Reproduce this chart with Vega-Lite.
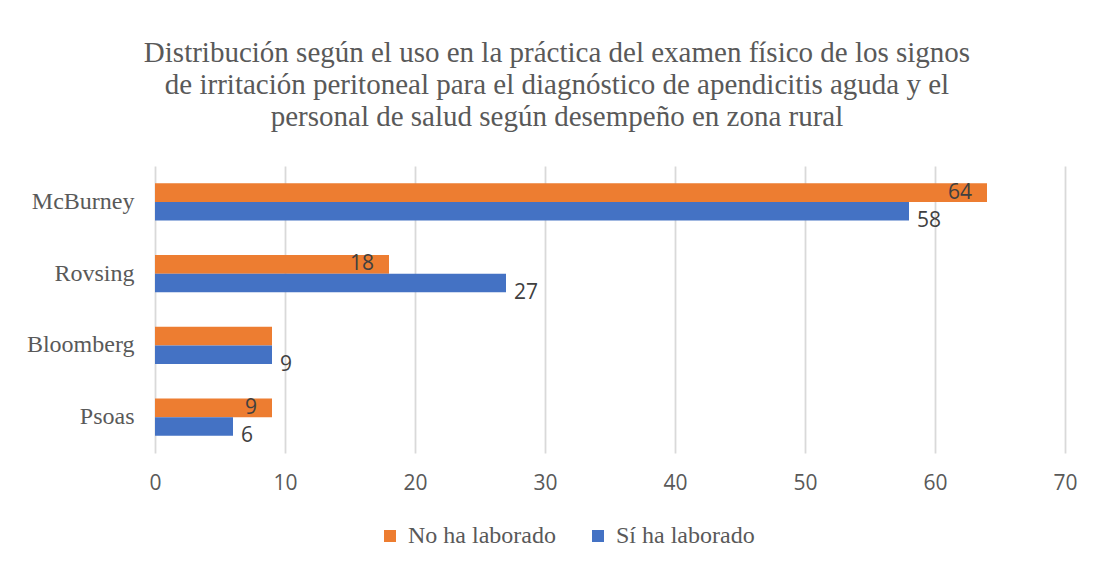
{
  "$schema": "https://vega.github.io/schema/vega-lite/v6.json",
  "width": 910,
  "height": 287,
  "autosize": {"type": "none"},
  "padding": {"left": 155, "top": 166, "right": 29, "bottom": 115},
  "background": "white",
  "title": {
    "text": ["Distribución según el uso en la práctica del examen físico de los signos", "de irritación peritoneal para el diagnóstico de apendicitis aguda y el", "personal de salud según desempeño en zona rural"],
    "font": "Liberation Serif",
    "fontSize": 29,
    "fontWeight": "normal",
    "color": "#595959",
    "lineHeight": 32,
    "anchor": "middle",
    "dx": -53,
    "offset": 34
  },
  "data": {
    "values": [
      {"signo": "McBurney", "serie": "No ha laborado", "valor": 64},
      {"signo": "McBurney", "serie": "Sí ha laborado", "valor": 58},
      {"signo": "Rovsing", "serie": "No ha laborado", "valor": 18},
      {"signo": "Rovsing", "serie": "Sí ha laborado", "valor": 27},
      {"signo": "Bloomberg", "serie": "No ha laborado", "valor": 9},
      {"signo": "Bloomberg", "serie": "Sí ha laborado", "valor": 9},
      {"signo": "Psoas", "serie": "No ha laborado", "valor": 9},
      {"signo": "Psoas", "serie": "Sí ha laborado", "valor": 6}
    ]
  },
  "encoding": {
    "y": {
      "field": "signo",
      "type": "nominal",
      "sort": ["McBurney", "Rovsing", "Bloomberg", "Psoas"],
      "scale": {"paddingInner": 0.48, "paddingOuter": 0.24},
      "axis": {
        "title": null,
        "domain": false,
        "ticks": false,
        "labelFont": "Liberation Serif",
        "labelFontSize": 24,
        "labelColor": "#595959",
        "labelPadding": 21
      }
    },
    "yOffset": {
      "field": "serie",
      "type": "nominal",
      "sort": ["No ha laborado", "Sí ha laborado"],
      "scale": {"paddingInner": 0, "paddingOuter": 0}
    },
    "x": {
      "field": "valor",
      "type": "quantitative",
      "scale": {"domain": [0, 70], "nice": false},
      "axis": {
        "title": null,
        "values": [0, 10, 20, 30, 40, 50, 60, 70],
        "domain": false,
        "ticks": false,
        "grid": true,
        "gridColor": "#d9d9d9",
        "gridWidth": 1.8,
        "labelFlush": false,
        "labelFont": "Open Sans",
        "labelFontSize": 21,
        "labelColor": "#595959",
        "labelPadding": 19
      }
    }
  },
  "layer": [
    {
      "mark": {"type": "bar", "cornerRadius": 0},
      "encoding": {
        "color": {
          "field": "serie",
          "type": "nominal",
          "sort": ["No ha laborado", "Sí ha laborado"],
          "scale": {"domain": ["No ha laborado", "Sí ha laborado"], "range": ["#ED7D31", "#4472C4"]},
          "legend": {
            "title": null,
            "orient": "none",
            "direction": "horizontal",
            "legendX": 223,
            "legendY": 358,
            "symbolType": "square",
            "symbolSize": 144,
            "symbolStrokeWidth": 0,
            "symbolOffset": 0,
            "labelFont": "Liberation Serif",
            "labelFontSize": 24,
            "labelColor": "#595959",
            "labelOffset": 6,
            "columnPadding": 30
          }
        }
      }
    },
    {
      "transform": [{"filter": "datum.serie == 'No ha laborado' && datum.signo != 'Bloomberg'"}],
      "mark": {"type": "text", "align": "right", "baseline": "middle", "dx": -15, "font": "Open Sans", "fontSize": 21, "color": "#404040"},
      "encoding": {"text": {"field": "valor", "type": "quantitative"}}
    },
    {
      "transform": [{"filter": "datum.serie == 'Sí ha laborado'"}],
      "mark": {"type": "text", "align": "left", "baseline": "middle", "dx": 8, "dy": 10, "font": "Open Sans", "fontSize": 21, "color": "#404040"},
      "encoding": {"text": {"field": "valor", "type": "quantitative"}}
    }
  ],
  "config": {
    "view": {"stroke": null}
  }
}
